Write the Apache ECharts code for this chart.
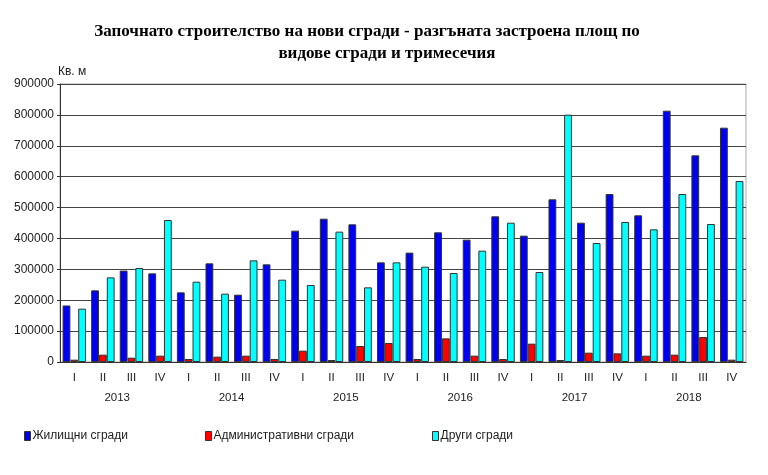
<!DOCTYPE html>
<html>
<head>
<meta charset="utf-8">
<script src="https://cdn.jsdelivr.net/npm/echarts@6/dist/echarts.min.js"></script>
<style>
  html, body { margin: 0; padding: 0; background: #fff; }
  #chart { width: 768px; height: 475px; }
</style>
</head>
<body>
<div id="chart"></div>
<script>
var years = ['2013', '2014', '2015', '2016', '2017', '2018'];
var quarters = [];
for (var y = 0; y < years.length; y++) {
  quarters.push('I', 'II', 'III', 'IV');
}

// Кв. м
var housing = [183000, 232000, 296000, 287000, 225500, 319400, 218000, 316200,
  425200, 464000, 445700, 322600, 354000, 419800, 396000, 471600,
  409000, 526600, 451000, 543900, 474800, 813600, 669000, 758600];
var offices = [7500, 23700, 14000, 20500, 9700, 17300, 20500, 9700,
  36700, 6500, 51800, 61500, 9700, 76600, 20500, 9700,
  59300, 6500, 30200, 28000, 20500, 23700, 80900, 7500];
var others = [172700, 274000, 304300, 459700, 260000, 221200, 329100, 266500,
  249300, 422000, 241700, 322600, 308600, 288100, 360400, 451000,
  291400, 800700, 385200, 453200, 429500, 543900, 446700, 586000];

var names = ['Жилищни сгради', 'Административни сгради', 'Други сгради'];
var colors = ['#0000f0', '#ff0000', '#00ffff'];

var chart = echarts.init(document.getElementById('chart'));

var baseFont = 'Liberation Sans, Arial, sans-serif';
var titleStyle = {
  fontFamily: 'Liberation Serif, Times New Roman, serif',
  fontWeight: 'bold',
  fontSize: 17,
  color: '#000'
};

function legendAt(idx, left){
  return {
    data: [names[idx]],
    left: left,
    top: 425,
    icon: 'rect',
    itemWidth: 6,
    itemHeight: 9,
    itemGap: 2,
    selectedMode: false,
    itemStyle: { borderColor: '#333', borderWidth: 1 },
    textStyle: { fontFamily: baseFont, fontSize: 12, color: '#222', padding: [0, 0, 0, -3] }
  };
}

function barSeries(idx, values){
  return {
    name: names[idx],
    type: 'bar',
    data: values,
    barGap: '0%',
    barCategoryGap: '18%',
    itemStyle: { color: colors[idx], borderColor: '#333', borderWidth: 1 }
  };
}

var option = {
  animation: false,
  title: [{
    text: 'Започнато строителство на нови сгради - разгъната застроена площ по',
    left: 362,
    textAlign: 'center',
    top: 18,
    textStyle: titleStyle
  }, {
    text: 'видове сгради и тримесечия',
    left: 382,
    textAlign: 'center',
    top: 40,
    textStyle: titleStyle
  }],
  legend: [legendAt(0, 19), legendAt(1, 200), legendAt(2, 427)],
  grid: {
    left: 60,
    right: 22,
    top: 84,
    bottom: 113,
    show: true,
    borderColor: '#aaa',
    borderWidth: 1
  },
  xAxis: [{
    type: 'category',
    data: quarters,
    axisLine: { lineStyle: { color: '#333' } },
    axisTick: { show: false },
    axisLabel: { fontFamily: baseFont, fontSize: 11.5, color: '#222', margin: 10 }
  }, {
    type: 'category',
    data: years,
    position: 'bottom',
    offset: 20,
    axisLine: { show: false },
    axisTick: { show: false },
    axisLabel: { fontFamily: baseFont, fontSize: 11.5, color: '#222', margin: 10 }
  }],
  yAxis: {
    type: 'value',
    min: 0,
    max: 900000,
    interval: 100000,
    name: 'Кв. м',
    nameLocation: 'end',
    nameGap: 6,
    nameTextStyle: { fontFamily: baseFont, fontSize: 12, color: '#222', align: 'left', padding: [0, 0, 0, -2] },
    axisLine: { show: true, lineStyle: { color: '#333' } },
    axisTick: { show: true, length: 3, lineStyle: { color: '#333' } },
    axisLabel: {
      fontFamily: baseFont, fontSize: 12, color: '#222', margin: 6,
      formatter: function (v) { return String(v); }
    },
    splitLine: { lineStyle: { color: '#444', width: 1 } }
  },
  series: [barSeries(0, housing), barSeries(1, offices), barSeries(2, others)]
};

chart.setOption(option);
</script>
</body>
</html>
